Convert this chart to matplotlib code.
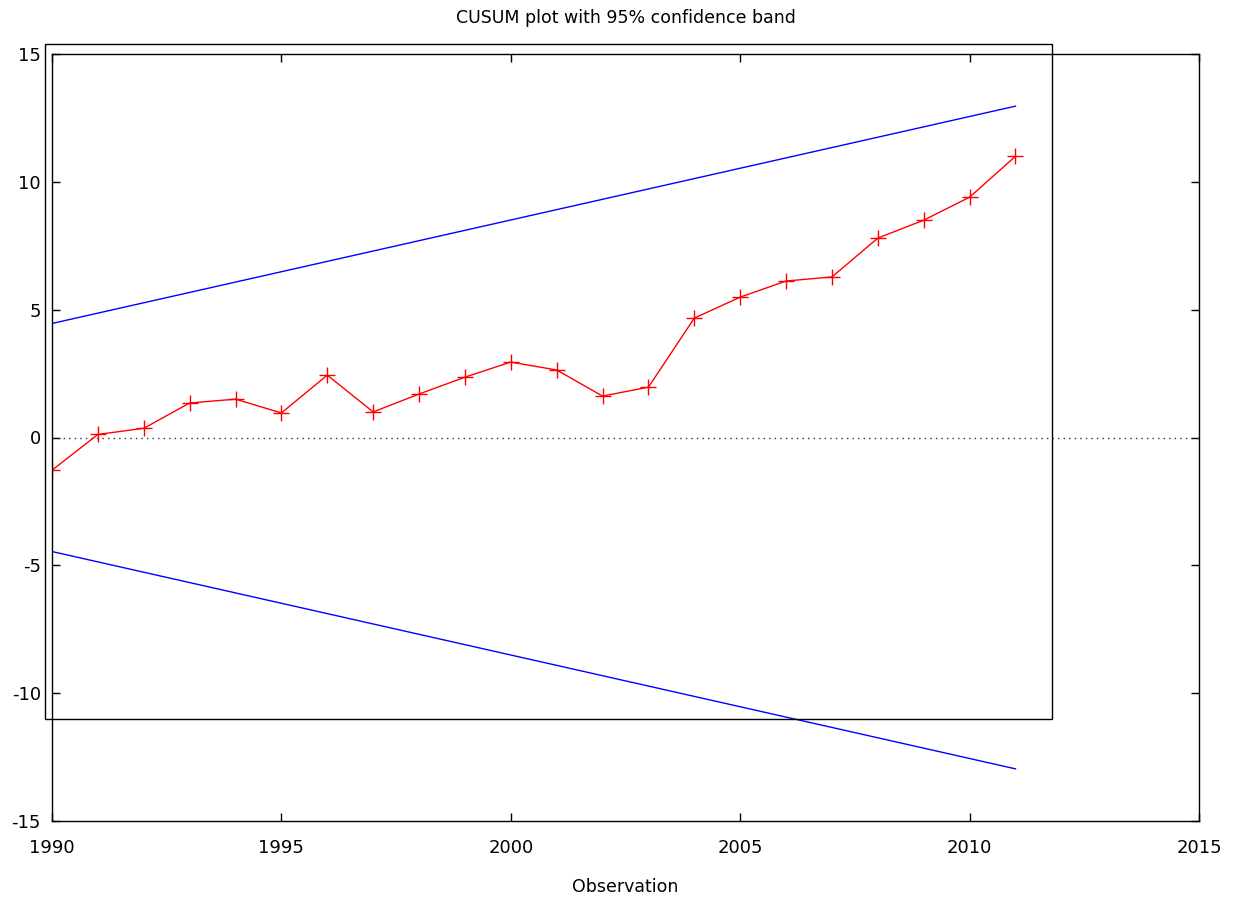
import matplotlib
matplotlib.use("Agg")
import matplotlib.pyplot as plt
from matplotlib.patches import Rectangle

years = list(range(1990, 2012))
cusum = [-1.28, 0.12, 0.36, 1.35, 1.50, 0.96, 2.44, 1.00, 1.70, 2.36, 2.95,
         2.64, 1.62, 1.97, 4.67, 5.49, 6.12, 6.28, 7.80, 8.50, 9.40, 11.00]
band_x = [1990, 2011]
band_upper = [4.46, 12.96]
band_lower = [-4.46, -12.96]
xticks = [1990, 1995, 2000, 2005, 2010, 2015]
yticks = [-15, -10, -5, 0, 5, 10, 15]

plt.rcParams['font.family'] = ['DejaVu Sans']
plt.rcParams['axes.unicode_minus'] = False
fig = plt.figure(figsize=(12.39, 8.99), dpi=100)
ax = fig.add_axes([52/1239, 1-821/899, (1199-52)/1239, (821-54)/899])

ax.plot(band_x, band_upper, color='#0000ff', lw=1.0)
ax.plot(band_x, band_lower, color='#0000ff', lw=1.0)
ax.axhline(0, color='#333333', lw=1.0, ls=(0, (1, 3)))
ax.plot(years, cusum, color='#ff0000', lw=1.0, marker='+', markersize=11, markeredgewidth=1.0)

ax.set_xlim(1990, 2015)
ax.set_ylim(-15, 15)
ax.set_xticks(xticks)
ax.set_yticks(yticks)
ax.tick_params(direction='in', length=6, width=1, top=True, right=True, labelsize=13)
ax.tick_params(axis='y', pad=8)
ax.tick_params(axis='x', pad=13)
for s in ax.spines.values():
    s.set_linewidth(1.0)
ax.set_title('CUSUM plot with 95% confidence band', fontsize=12.5, pad=22)
ax.set_xlabel('Observation', fontsize=12.5, labelpad=15)

fig.patches.append(Rectangle((45/1239, 1-719/899), (1052-45)/1239, (719-44)/899,
                             transform=fig.transFigure, fill=False, edgecolor='black', lw=1.0))

fig.savefig('out.png', dpi=100)
